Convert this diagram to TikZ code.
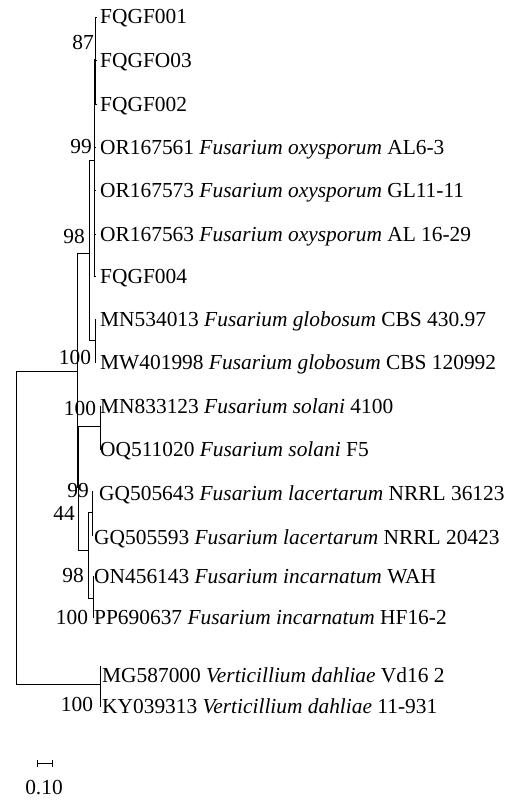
\documentclass[tikz,border=0pt]{standalone}
\usepackage{fontspec}
\setmainfont{Liberation Serif}
\begin{document}
\begin{tikzpicture}[x=1pt,y=-1pt,
  br/.style={line width=0.9pt, black},
  leaf/.style={anchor=base west, inner sep=0pt, font=\fontsize{21.4}{25}\selectfont},
  bs/.style={anchor=center, inner sep=0pt, font=\fontsize{21.4}{25}\selectfont}]
\useasboundingbox (0,0) rectangle (516,800);
% internal nodes
\coordinate (R) at (16,527);
\coordinate (A) at (77,371);
\coordinate (V) at (100,684);
\coordinate (B) at (78,487);
\coordinate (C) at (89,253);
\coordinate (D) at (94.5,160);
\coordinate (E) at (95.5,59);
\coordinate (F) at (95,340);
\coordinate (G) at (100,426);
\coordinate (H) at (88,550);
\coordinate (I) at (92,512);
\coordinate (J) at (93,598);
% leaf tips
\coordinate (t1) at (96,17);
\coordinate (t2) at (96,60);
\coordinate (t3) at (96,104);
\coordinate (t4) at (95,147);
\coordinate (t5) at (95,190);
\coordinate (t6) at (95,234);
\coordinate (t7) at (95,276);
\coordinate (t8) at (96,319);
\coordinate (t9) at (96,362);
\coordinate (t10) at (100.5,406);
\coordinate (t11) at (100.5,449);
\coordinate (t12) at (93,491);
\coordinate (t13) at (93,535);
\coordinate (t14) at (94,576);
\coordinate (t15) at (94,617);
\coordinate (t16) at (100.5,666);
\coordinate (t17) at (100.5,706);
% branches
\draw[br] (R) |- (A);
\draw[br] (R) |- (V);
\draw[br] (A) |- (C);
\draw[br] (A) |- (B);
\draw[br] (B) |- (G);
\draw[br] (B) |- (H);
\draw[br] (C) |- (D);
\draw[br] (C) |- (F);
\draw[br] (D) |- (E);
\draw[br] (E) |- (t1);
\draw[br] (E) |- (t2);
\draw[br] (E) |- (t3);
\draw[br] (D) |- (t4);
\draw[br] (D) |- (t5);
\draw[br] (D) |- (t6);
\draw[br] (D) |- (t7);
\draw[br] (F) |- (t8);
\draw[br] (F) |- (t9);
\draw[br] (G) |- (t10);
\draw[br] (G) |- (t11);
\draw[br] (H) |- (I);
\draw[br] (H) |- (J);
\draw[br] (I) |- (t12);
\draw[br] (I) |- (t13);
\draw[br] (J) |- (t14);
\draw[br] (J) |- (t15);
\draw[br] (V) |- (t16);
\draw[br] (V) |- (t17);
% leaf labels
\node[leaf] (n1) at (100,24) {FQGF001};
\node[leaf] (n2) at (100,67) {FQGFO03};
\node[leaf] (n3) at (100,111) {FQGF002};
\node[leaf] (n4) at (100,154) {OR167561 \textit{Fusarium oxysporum} AL6-3};
\node[leaf] (n5) at (100,197) {OR167573 \textit{Fusarium oxysporum} GL11-11};
\node[leaf] (n6) at (100,241) {OR167563 \textit{Fusarium oxysporum} AL 16-29};
\node[leaf] (n7) at (100,283) {FQGF004};
\node[leaf] (n8) at (100,326) {MN534013 \textit{Fusarium globosum} CBS 430.97};
\node[leaf] (n9) at (100,369) {MW401998 \textit{Fusarium globosum} CBS 120992};
\node[leaf] (n10) at (100,413) {MN833123 \textit{Fusarium solani} 4100};
\node[leaf] (n11) at (100,456) {OQ511020 \textit{Fusarium solani} F5};
\node[leaf] (n12) at (99,500) {GQ505643 \textit{Fusarium lacertarum} NRRL 36123};
\node[leaf] (n13) at (94,544) {GQ505593 \textit{Fusarium lacertarum} NRRL 20423};
\node[leaf] (n14) at (94,583) {ON456143 \textit{Fusarium incarnatum} WAH};
\node[leaf] (n15) at (94,624) {PP690637 \textit{Fusarium incarnatum} HF16-2};
\node[leaf] (n16) at (102,682) {MG587000 \textit{Verticillium dahliae} Vd16 2};
\node[leaf] (n17) at (102,713) {KY039313 \textit{Verticillium dahliae} 11-931};
% bootstrap values
\node[bs] (b1) at (83,42) {87};
\node[bs] (b2) at (81,147) {99};
\node[bs] (b3) at (74,236) {98};
\node[bs] (b4) at (75,357) {100};
\node[bs] (b5) at (80,408) {100};
\node[bs] (b6) at (78,491) {99};
\node[bs] (b7) at (64,513) {44};
\node[bs] (b8) at (73,575) {98};
\node[bs] (b9) at (72,617) {100};
\node[bs] (b10) at (77,704) {100};
% scale bar
\coordinate (sbL) at (37,763);
\coordinate (sbR) at (52,763);
\draw[br] (sbL) -- (sbR);
\draw[br] ([yshift=3.5pt]sbL) -- ([yshift=-3.5pt]sbL);
\draw[br] ([yshift=3.5pt]sbR) -- ([yshift=-3.5pt]sbR);
\node[bs] (sbt) at (44,788) {0.10};
\end{tikzpicture}
\end{document}
